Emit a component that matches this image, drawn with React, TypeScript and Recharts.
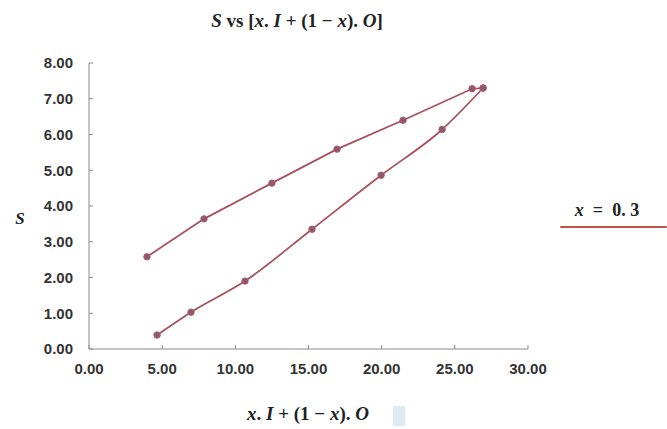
import React from 'react';
import { ComposedChart, Line, XAxis, YAxis } from 'recharts';

// loop branches (x = x.I + (1-x).O, s = S)
const upperX = [3.96, 7.86, 12.5, 16.95, 21.46, 26.18, 26.93];
const upperS = [2.58, 3.64, 4.64, 5.59, 6.4, 7.28, 7.3];
const lowerX = [4.65, 6.97, 10.66, 15.24, 19.96, 24.13, 26.93];
const lowerS = [0.39, 1.03, 1.9, 3.35, 4.86, 6.14, 7.3];

const xTicks = [0, 5, 10, 15, 20, 25, 30];
const yTicks = [0, 1, 2, 3, 4, 5, 6, 7, 8];

const upperData = upperX.map((x, i) => ({ x, s: upperS[i] }));
const lowerData = lowerX.map((x, i) => ({ x, s: lowerS[i] }));

const LINE = '#a8505c';
const DOT = { r: 3.2, fill: '#8c5a6e', stroke: '#b05a68', strokeWidth: 1 };
const tickStyle = { fontFamily: '"Liberation Sans", Arial, sans-serif', fontSize: 15, fontWeight: 700, fill: '#333' };
const serif = '"Liberation Serif", "DejaVu Serif", serif';

// math-ish spacing used in the labels
const sp = '\u2005';

export default function App() {
  const fmt = (v: number) => v.toFixed(2);

  return (
    <div style={{ position: 'absolute', left: 0, top: 0, width: 667, height: 429, background: '#fff' }}>
      <ComposedChart width={667} height={429} margin={{ top: 63, right: 139, bottom: 40, left: 19 }}>
        <XAxis
          type="number"
          dataKey="x"
          domain={[0, 30]}
          ticks={xTicks}
          tickFormatter={fmt}
          height={40}
          stroke="#8a8a8a"
          tickSize={-4}
          tickMargin={18}
          tick={tickStyle}
        />
        <YAxis
          type="number"
          dataKey="s"
          domain={[0, 8]}
          ticks={yTicks}
          tickFormatter={fmt}
          width={70}
          stroke="#8a8a8a"
          tickSize={-4}
          tickMargin={20}
          tick={tickStyle}
        />
        <Line
          data={upperData}
          dataKey="s"
          type="linear"
          stroke={LINE}
          strokeWidth={1.75}
          dot={DOT}
          activeDot={false}
          isAnimationActive={false}
        />
        <Line
          data={lowerData}
          dataKey="s"
          type="monotone"
          stroke={LINE}
          strokeWidth={1.75}
          dot={DOT}
          activeDot={false}
          isAnimationActive={false}
        />
      </ComposedChart>

      {/* title */}
      <div
        style={{
          position: 'absolute', left: 0, top: 11, width: 594, textAlign: 'center', whiteSpace: 'pre',
          fontFamily: serif, fontWeight: 700, fontSize: 19, lineHeight: '19px', color: '#222',
        }}
      >
        <i>S</i> vs [<i>x</i>.{sp}<i>I</i>{sp}+{sp}(1{sp}−{sp}<i>x</i>).{sp}<i>O</i>]
      </div>

      {/* y axis label */}
      <div
        style={{
          position: 'absolute', left: 10, top: 210, width: 20, textAlign: 'center',
          fontFamily: serif, fontWeight: 700, fontStyle: 'italic', fontSize: 17, lineHeight: '18px', color: '#222',
        }}
      >
        S
      </div>

      {/* x axis label */}
      <div
        style={{
          position: 'absolute', left: 208, top: 404, width: 200, textAlign: 'center', whiteSpace: 'pre',
          fontFamily: serif, fontWeight: 700, fontSize: 19, lineHeight: '19px', color: '#222',
        }}
      >
        <i>x</i>.{sp}<i>I</i>{sp}+{sp}(1{sp}−{sp}<i>x</i>).{sp}<i>O</i>
      </div>

      {/* handwritten note */}
      <div
        style={{
          position: 'absolute', left: 560, top: 200, width: 94, textAlign: 'center', whiteSpace: 'pre',
          fontFamily: serif, fontWeight: 700, fontSize: 18, lineHeight: '20px', color: '#222',
        }}
      >
        <i>x</i>{'\u2002'}={'\u2002'}0.{sp}3
      </div>
      <div style={{ position: 'absolute', left: 560, top: 226, width: 107, height: 2, background: '#c0504d', borderRadius: 1 }} />

      {/* faint cursor artefact next to x label */}
      <div style={{ position: 'absolute', left: 393, top: 406, width: 12, height: 20, background: '#d6e6f2', opacity: 0.8 }} />
    </div>
  );
}
